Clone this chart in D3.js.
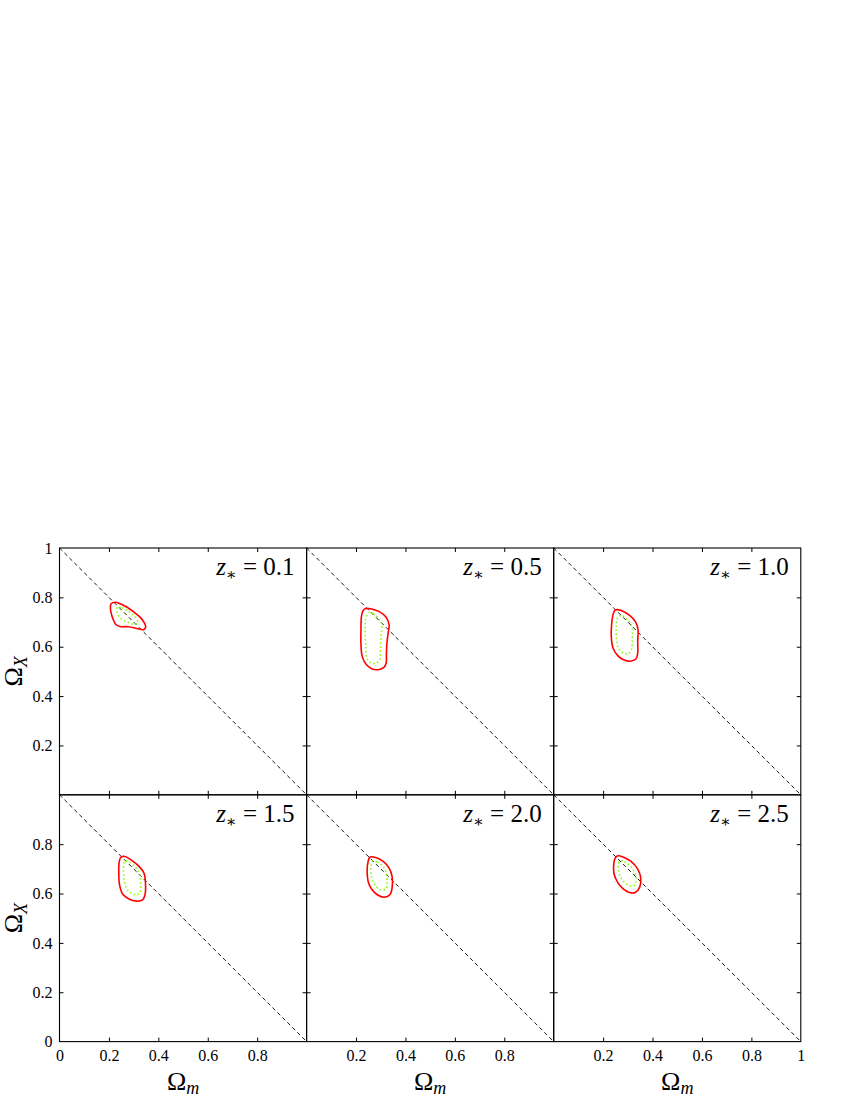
<!DOCTYPE html>
<html lang="en">
<head>
  <meta charset="UTF-8">
  <title>Omega_m vs Omega_X contours</title>
  <script src="https://d3js.org/d3.v7.min.js"></script>
  <style>
    body { margin: 0; background: #fff; }
    svg { display: block; font-family: "Liberation Serif", "DejaVu Serif", serif; }
    .domain { display: none; }
  </style>
</head>
<body>
  <div id="chart"></div>
  <script>
    // panel labels (z_*)
    const zValues = ["0.1", "0.5", "1.0", "1.5", "2.0", "2.5"];

    // outer (red, solid) contours: [Omega_m, Omega_X]
    const outer01 = [[0.209,0.774],[0.225,0.780],[0.245,0.774],[0.272,0.761],[0.299,0.742],[0.326,0.720],[0.342,0.699],[0.349,0.680],[0.340,0.669],[0.313,0.674],[0.279,0.681],[0.245,0.682],[0.229,0.689],[0.218,0.709],[0.209,0.736],[0.206,0.761]];
    const outer05 = [[0.240,0.755],[0.263,0.753],[0.294,0.742],[0.321,0.720],[0.334,0.689],[0.330,0.655],[0.325,0.615],[0.323,0.568],[0.322,0.534],[0.313,0.516],[0.290,0.507],[0.263,0.511],[0.240,0.530],[0.225,0.561],[0.220,0.608],[0.220,0.669],[0.222,0.723],[0.229,0.747]];
    const outer10 = [[0.249,0.749],[0.276,0.746],[0.307,0.727],[0.330,0.703],[0.341,0.672],[0.340,0.622],[0.340,0.574],[0.333,0.551],[0.310,0.541],[0.283,0.547],[0.259,0.564],[0.240,0.595],[0.233,0.642],[0.235,0.696],[0.240,0.730]];
    const outer15 = [[0.248,0.747],[0.265,0.750],[0.292,0.734],[0.323,0.709],[0.342,0.682],[0.348,0.642],[0.346,0.595],[0.336,0.574],[0.313,0.569],[0.283,0.577],[0.256,0.597],[0.243,0.635],[0.240,0.682],[0.241,0.723]];
    const outer20 = [[0.256,0.747],[0.280,0.746],[0.310,0.730],[0.334,0.703],[0.346,0.669],[0.346,0.622],[0.337,0.595],[0.314,0.585],[0.286,0.595],[0.263,0.618],[0.249,0.649],[0.245,0.696],[0.249,0.730]];
    const outer25 = [[0.259,0.753],[0.283,0.747],[0.313,0.730],[0.340,0.699],[0.352,0.665],[0.348,0.626],[0.330,0.604],[0.307,0.604],[0.280,0.620],[0.259,0.645],[0.244,0.680],[0.243,0.720],[0.248,0.741]];

    // inner (green, dotted) contours
    const inner01 = [[0.234,0.761],[0.252,0.758],[0.279,0.743],[0.306,0.720],[0.317,0.699],[0.303,0.691],[0.272,0.701],[0.248,0.715],[0.234,0.736],[0.232,0.753]];
    const inner05 = [[0.253,0.739],[0.270,0.734],[0.290,0.716],[0.305,0.689],[0.301,0.642],[0.299,0.588],[0.296,0.547],[0.283,0.534],[0.263,0.534],[0.245,0.550],[0.239,0.601],[0.237,0.669],[0.240,0.716]];
    const inner10 = [[0.263,0.723],[0.280,0.724],[0.301,0.707],[0.317,0.680],[0.318,0.635],[0.315,0.591],[0.303,0.572],[0.286,0.572],[0.265,0.588],[0.255,0.622],[0.253,0.676],[0.256,0.709]];
    const inner15 = [[0.265,0.732],[0.283,0.726],[0.306,0.707],[0.323,0.680],[0.329,0.639],[0.326,0.604],[0.313,0.595],[0.295,0.599],[0.275,0.615],[0.263,0.645],[0.259,0.689],[0.260,0.720]];
    const inner20 = [[0.267,0.732],[0.286,0.728],[0.310,0.709],[0.323,0.680],[0.326,0.642],[0.321,0.618],[0.299,0.615],[0.278,0.632],[0.264,0.662],[0.261,0.707]];
    const inner25 = [[0.267,0.730],[0.286,0.728],[0.310,0.712],[0.329,0.682],[0.333,0.649],[0.326,0.632],[0.307,0.632],[0.283,0.649],[0.267,0.676],[0.261,0.709]];

    const outerContours = [outer01, outer05, outer10, outer15, outer20, outer25];
    const innerContours = [inner01, inner05, inner10, inner15, inner20, inner25];

    // flat universe line Omega_m + Omega_X = 1
    const flatLine = [[0, 1], [1, 0]];

    // ticks
    const innerTicks = [0.2, 0.4, 0.6, 0.8];
    const yLabelsTop = [0.2, 0.4, 0.6, 0.8, 1];
    const yLabelsBottom = [0, 0.2, 0.4, 0.6, 0.8];
    const xLabelsLeft = [0, 0.2, 0.4, 0.6, 0.8];
    const xLabelsMid = [0.2, 0.4, 0.6, 0.8];
    const xLabelsRight = [0.2, 0.4, 0.6, 0.8, 1];

    const W = 850, H = 1100;
    const gridLeft = 59.5, gridTop = 548;
    const pw = 247.1, ph = 246.8;
    const serif = "Liberation Serif, DejaVu Serif, serif";

    const svg = d3.select("#chart").append("svg")
      .attr("width", W)
      .attr("height", H);

    const x = d3.scaleLinear().domain([0, 1]).range([0, pw]);
    const y = d3.scaleLinear().domain([0, 1]).range([ph, 0]);

    const fmt = d => d === 0 ? "0" : d === 1 ? "1" : d3.format(".1f")(d);

    const line = d3.line().x(d => x(d[0])).y(d => y(d[1]));
    const closed = d3.line().x(d => x(d[0])).y(d => y(d[1])).curve(d3.curveCatmullRomClosed.alpha(0.5));

    zValues.forEach((z, i) => {
      const col = i % 3, row = Math.floor(i / 3);
      const g = svg.append("g")
        .attr("transform", "translate(" + (gridLeft + col * pw) + "," + (gridTop + row * ph) + ")");

      // inward ticks on all four sides
      g.append("g").attr("transform", "translate(0," + ph + ")")
        .call(d3.axisBottom(x).tickValues(innerTicks).tickSize(-4).tickFormat(""));
      g.append("g")
        .call(d3.axisTop(x).tickValues(innerTicks).tickSize(-4).tickFormat(""));
      g.append("g")
        .call(d3.axisLeft(y).tickValues(innerTicks).tickSize(-4).tickFormat(""));
      g.append("g").attr("transform", "translate(" + pw + ",0)")
        .call(d3.axisRight(y).tickValues(innerTicks).tickSize(-4).tickFormat(""));
      g.selectAll(".tick line").attr("stroke", "#000").attr("stroke-width", 1);

      // tick labels
      if (col === 0) {
        g.append("g")
          .call(d3.axisLeft(y).tickValues(row === 0 ? yLabelsTop : yLabelsBottom)
            .tickSize(0).tickPadding(7).tickFormat(fmt))
          .attr("font-family", serif)
          .attr("font-size", 16)
          .selectAll("text").attr("fill", "#000");
      }
      if (row === 1) {
        const vals = col === 0 ? xLabelsLeft : col === 1 ? xLabelsMid : xLabelsRight;
        g.append("g").attr("transform", "translate(0," + ph + ")")
          .call(d3.axisBottom(x).tickValues(vals).tickSize(0).tickPadding(8).tickFormat(fmt))
          .attr("font-family", serif)
          .attr("font-size", 16)
          .selectAll("text").attr("fill", "#000");
      }
      g.selectAll(".domain").remove();

      // dashed diagonal
      g.append("path")
        .attr("d", line(flatLine))
        .attr("fill", "none")
        .attr("stroke", "#000")
        .attr("stroke-width", 0.9)
        .attr("stroke-dasharray", "4,3");

      // contours
      g.append("path")
        .attr("d", closed(innerContours[i]))
        .attr("fill", "none")
        .attr("stroke", "#80ff00")
        .attr("stroke-width", 1.6)
        .attr("stroke-dasharray", "1.5,2.5");
      g.append("path")
        .attr("d", closed(outerContours[i]))
        .attr("fill", "none")
        .attr("stroke", "#ff0000")
        .attr("stroke-width", 1.6);

      // frame
      g.append("rect")
        .attr("width", pw).attr("height", ph)
        .attr("fill", "none")
        .attr("stroke", "#000")
        .attr("stroke-width", 1.1);

      // panel label
      const t = g.append("text")
        .attr("x", pw - 12)
        .attr("y", 27)
        .attr("text-anchor", "end")
        .attr("font-size", 25);
      t.append("tspan").attr("font-style", "italic").text("z");
      t.append("tspan").attr("font-size", 16).attr("dy", 5).text("∗");
      t.append("tspan").attr("dy", -5).text(" = " + z);
    });

    // axis titles
    [0, 1].forEach(row => {
      const t = svg.append("text")
        .attr("transform", "translate(22," + (gridTop + row * ph + ph / 2) + ") rotate(-90)")
        .attr("text-anchor", "middle")
        .attr("font-size", 26);
      t.append("tspan").text("Ω");
      t.append("tspan").attr("font-style", "italic").attr("font-size", 18).attr("dy", 5).text("X");
    });
    [0, 1, 2].forEach(col => {
      const t = svg.append("text")
        .attr("x", gridLeft + col * pw + pw / 2)
        .attr("y", 1090)
        .attr("text-anchor", "middle")
        .attr("font-size", 26);
      t.append("tspan").text("Ω");
      t.append("tspan").attr("font-style", "italic").attr("font-size", 18).attr("dy", 4).text("m");
    });
  </script>
</body>
</html>
